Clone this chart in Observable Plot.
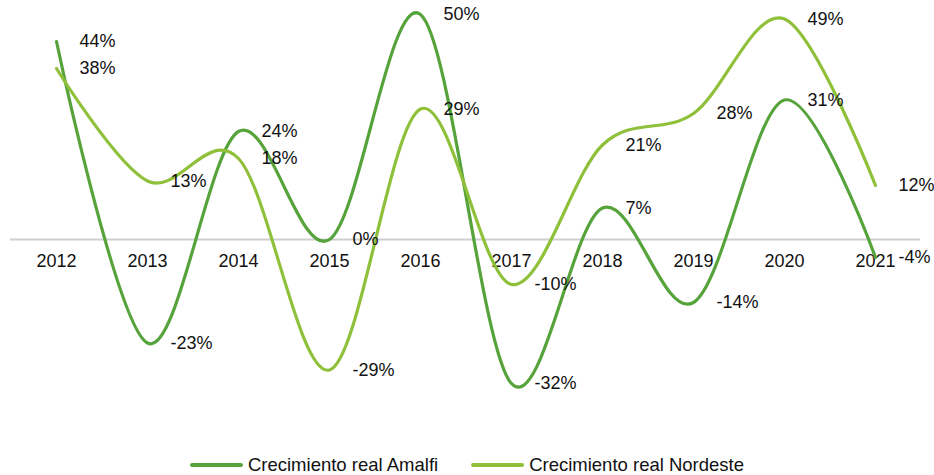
<!DOCTYPE html>
<html>
<head>
<meta charset="utf-8">
<script src="https://cdn.jsdelivr.net/npm/d3@7"></script>
<script src="https://cdn.jsdelivr.net/npm/@observablehq/plot@0.6"></script>
<style>
  body { margin: 0; background: #fff; font-family: "Liberation Sans", Arial, sans-serif; }
  #chart { width: 934px; }
  .legend { display: flex; justify-content: center; align-items: center; height: 30px; margin-top: 5px; font-size: 18.5px; color: #111; margin-left: 0px; }
  .legend .item { display: flex; align-items: center; }
  .legend .sw { width: 53px; height: 4px; margin-right: 5px; border-radius: 2px; }
  .legend .gap { width: 33px; }
</style>
</head>
<body>
<div id="chart"></div>
<script>
const years = ["2012","2013","2014","2015","2016","2017","2018","2019","2020","2021"];
const amalfi = [44, -23, 24, 0, 50, -32, 7, -14, 31, -4];
const nordeste = [38, 13, 18, -29, 29, -10, 21, 28, 49, 12];
const seriesNames = ["Crecimiento real Amalfi", "Crecimiento real Nordeste"];
const colors = ["#57a33b", "#8fc03a"];

const rows = [];
years.forEach((y, i) => {
  rows.push({year: y, value: amalfi[i], s: seriesNames[0]});
  rows.push({year: y, value: nordeste[i], s: seriesNames[1]});
});

const H = 445;
const zeroY = 239, pxPer = 4.5;

const plot = Plot.plot({
  width: 934,
  height: H,
  marginLeft: 10,
  marginRight: 14,
  marginTop: 0,
  marginBottom: 0,
  style: {fontFamily: "'Liberation Sans', Arial, sans-serif", background: "#fff"},
  x: {type: "point", domain: years, padding: 0.5, axis: null},
  y: {domain: [-(H - zeroY) / pxPer, zeroY / pxPer], axis: null},
  color: {domain: seriesNames, range: colors},
  marks: [
    Plot.ruleY([0], {stroke: "#cfcfcf", strokeWidth: 2}),
    Plot.text(years, {x: d => d, y: 0, text: d => d, dy: 22, fontSize: 18, fill: "#111"}),
    Plot.line(rows, {x: "year", y: "value", z: "s", stroke: "s", strokeWidth: 3.2, curve: "cardinal", tension: 0}),
    Plot.text(rows, {x: "year", y: "value", text: d => d.value + "%", dx: 23, textAnchor: "start", fontSize: 18, fill: "#111"})
  ]
});
document.getElementById("chart").appendChild(plot);

const legend = document.createElement("div");
legend.className = "legend";
seriesNames.forEach((n, i) => {
  if (i > 0) { const g = document.createElement("div"); g.className = "gap"; legend.appendChild(g); }
  const it = document.createElement("div"); it.className = "item";
  const sw = document.createElement("div"); sw.className = "sw"; sw.style.background = colors[i];
  const tx = document.createElement("span"); tx.textContent = n;
  it.appendChild(sw); it.appendChild(tx); legend.appendChild(it);
});
document.getElementById("chart").appendChild(legend);
</script>
</body>
</html>
